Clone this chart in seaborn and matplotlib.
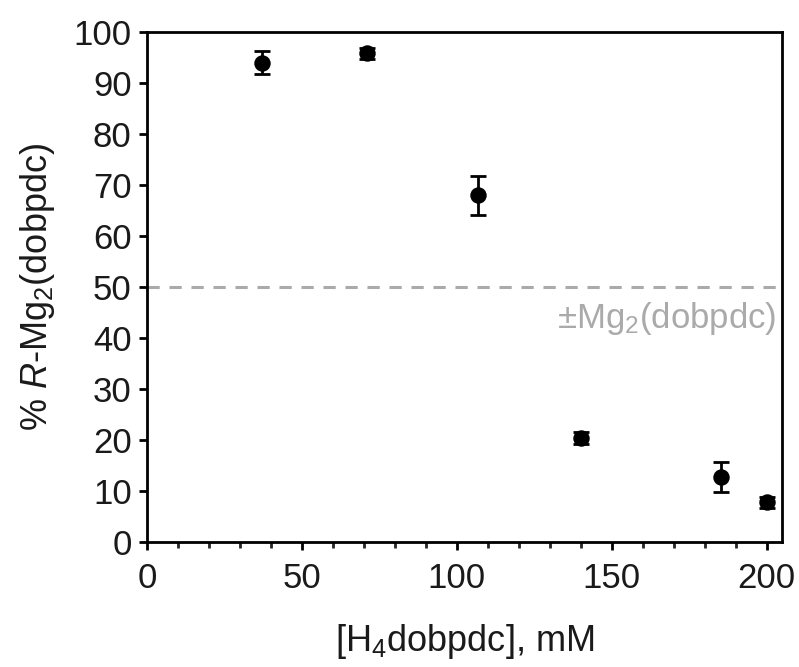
import numpy as np
import pandas as pd
import seaborn as sns
import matplotlib.pyplot as plt
from matplotlib.ticker import MultipleLocator

# data
conc_mM = [37, 71, 106.7, 140, 185.4, 200.2]
pct_R = [94.0, 95.8, 68.0, 20.5, 12.8, 7.8]
err = [2.3, 1.0, 3.8, 1.2, 3.0, 1.0]
racemic_level = 50

df = pd.DataFrame({'conc': conc_mM, 'pct': pct_R, 'err': err})

sns.set_style('ticks')
plt.rcParams['font.family'] = ['Liberation Sans', 'DejaVu Sans']
plt.rcParams['mathtext.fontset'] = 'custom'
plt.rcParams['mathtext.rm'] = 'Liberation Sans'
plt.rcParams['mathtext.it'] = 'Liberation Sans:italic'

fig = plt.figure(figsize=(7.99, 6.67), dpi=100)
ax = fig.add_axes([0.184, 0.187, 0.795, 0.765])

ax.axhline(racemic_level, color='#aaaaaa', linestyle=(0, (4, 3.2)), linewidth=2.2, zorder=1)
ax.text(203, racemic_level - 2.5, r'±Mg$_2$(dobpdc)', color='#aaaaaa',
        fontsize=25, ha='right', va='top')

ax.errorbar(df['conc'], df['pct'], yerr=df['err'], fmt='none', ecolor='black',
            elinewidth=2, capsize=5.5, capthick=2, zorder=2)
sns.scatterplot(data=df, x='conc', y='pct', ax=ax, color='black', s=140,
                edgecolor='black', linewidth=0, zorder=3)

ax.set_xlim(0, 205)
ax.set_ylim(0, 100)
ax.xaxis.set_major_locator(MultipleLocator(50))
ax.xaxis.set_minor_locator(MultipleLocator(10))
ax.yaxis.set_major_locator(MultipleLocator(10))

for s in ax.spines.values():
    s.set_linewidth(2)
    s.set_color('black')

ax.tick_params(axis='both', which='major', direction='out', length=6, width=2,
               labelsize=25, colors='black', labelcolor='#1a1a1a')
ax.tick_params(axis='y', which='major', pad=5)
ax.tick_params(axis='x', which='minor', direction='out', length=4, width=2)
ax.tick_params(axis='x', which='major', pad=8)

ax.set_xlabel(r'[H$_4$dobpdc], mM', fontsize=26, labelpad=20, color='#1a1a1a')
ax.set_ylabel(r'% $\mathit{R}$-Mg$_2$(dobpdc)', fontsize=26, labelpad=12, color='#1a1a1a')

fig.savefig('out.png', dpi=100)
